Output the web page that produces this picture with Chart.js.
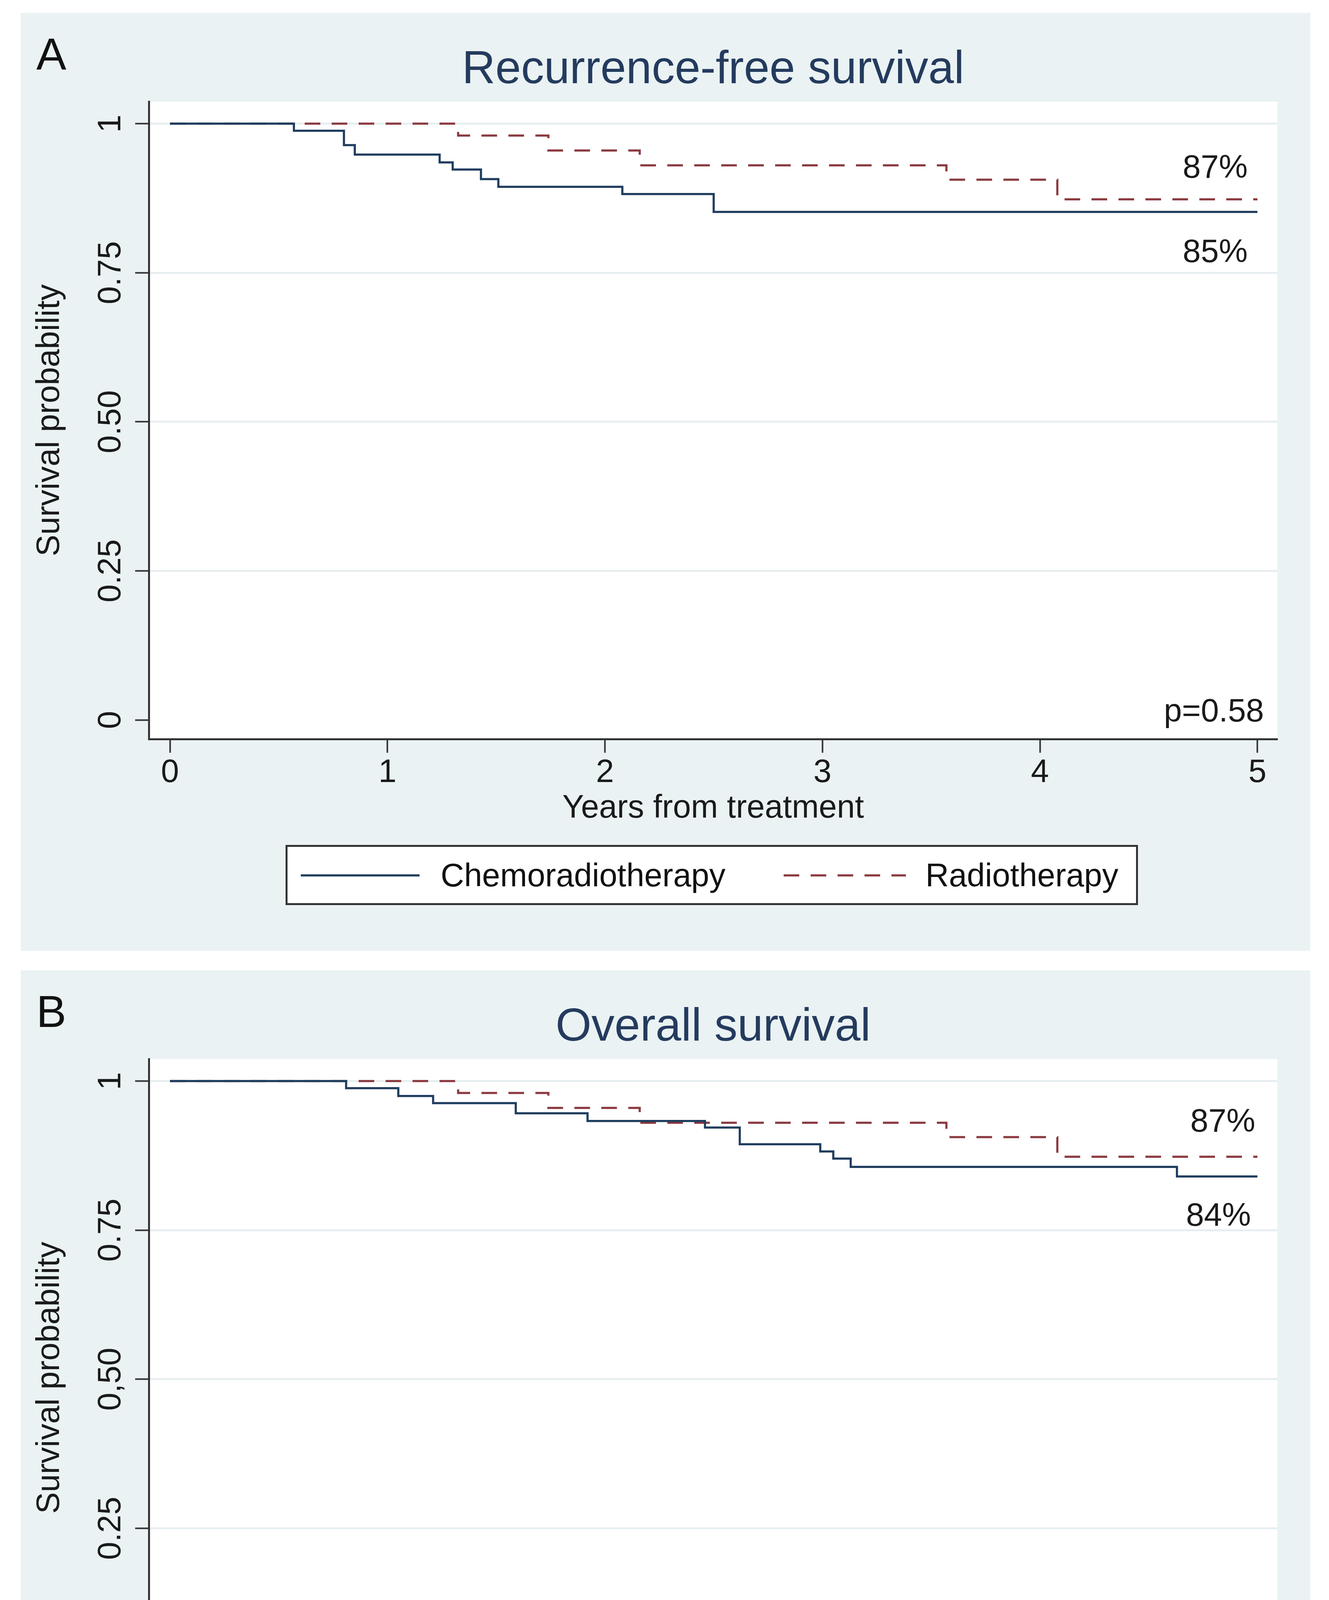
<!DOCTYPE html>
<html>
<head>
<meta charset="utf-8">
<title>Recurrence-free and overall survival</title>
<script src="https://cdn.jsdelivr.net/npm/chart.js@4.4.1/dist/chart.umd.min.js"></script>
<style>
  html, body { margin: 0; padding: 0; background: #fff; }
  body { width: 3402px; height: 4934px; position: relative; overflow: hidden;
         font-family: "Liberation Sans", Arial, sans-serif; }
  .panel { position: absolute; left: 53px; width: 3301px; height: 2401px; background: #eaf2f3; }
  .letter { position: absolute; left: 40px; top: 48px; font-size: 115px; line-height: 1; color: #111; }
  .title { position: absolute; left: 328px; width: 2889px; top: 80px; text-align: center;
           font-size: 118px; line-height: 1; color: #243b5e; }
  .panel canvas { position: absolute; left: 0; top: 0; }
  .legend { position: absolute; left: 676px; top: 2128px; }
</style>
</head>
<body>

<div class="panel" style="top:33px">
  <div class="letter">A</div>
  <div class="title">Recurrence-free survival</div>
  <canvas id="rfs" width="3301" height="2110" style="width:3301px;height:2110px"></canvas>
  <svg class="legend" width="2186" height="158">
    <rect x="4.5" y="4.5" width="2177" height="149" fill="#fff" stroke="#333" stroke-width="5"/>
    <line x1="41" y1="80" x2="345" y2="80" stroke="#1f3d5e" stroke-width="5.5"/>
    <text x="399" y="108" font-size="83" fill="#111" font-family="Liberation Sans, Arial, sans-serif">Chemoradiotherapy</text>
    <line x1="1277" y1="80" x2="1590" y2="80" stroke="#8b3a40" stroke-width="5.5" stroke-dasharray="40 29"/>
    <text x="1640" y="108" font-size="83" fill="#111" font-family="Liberation Sans, Arial, sans-serif">Radiotherapy</text>
  </svg>
</div>

<div class="panel" style="top:2484px">
  <div class="letter">B</div>
  <div class="title">Overall survival</div>
  <canvas id="os" width="3301" height="2110" style="width:3301px;height:2110px"></canvas>
  <svg class="legend" width="2186" height="158">
    <rect x="4.5" y="4.5" width="2177" height="149" fill="#fff" stroke="#333" stroke-width="5"/>
    <line x1="41" y1="80" x2="345" y2="80" stroke="#1f3d5e" stroke-width="5.5"/>
    <text x="399" y="108" font-size="83" fill="#111" font-family="Liberation Sans, Arial, sans-serif">Chemoradiotherapy</text>
    <line x1="1277" y1="80" x2="1590" y2="80" stroke="#8b3a40" stroke-width="5.5" stroke-dasharray="40 29"/>
    <text x="1640" y="108" font-size="83" fill="#111" font-family="Liberation Sans, Arial, sans-serif">Radiotherapy</text>
  </svg>
</div>

<script>
// ---- data ----
const xTickValues = [0, 1, 2, 3, 4, 5];
const yTickValues = [0, 0.25, 0.5, 0.75, 1];
const yTickLabelsA = ['0', '0.25', '0.50', '0.75', '1'];
const yTickLabelsB = ['0', '0.25', '0,50', '0.75', '1'];

// A: recurrence-free survival (years from treatment)
const rfsChemoTime = [0, 0.57, 0.80, 0.85, 1.24, 1.30, 1.43, 1.51, 2.08, 2.50, 5];
const rfsChemoSurv = [1, 0.988, 0.964, 0.948, 0.935, 0.923, 0.907, 0.894, 0.882, 0.852, 0.852];
const rfsRadioTime = [0, 1.325, 1.74, 2.16, 3.57, 4.08, 5];
const rfsRadioSurv = [1, 0.980, 0.955, 0.930, 0.906, 0.873, 0.873];

// B: overall survival (years from diagnosis)
const osChemoTime = [0, 0.81, 1.05, 1.21, 1.59, 1.92, 2.46, 2.62, 2.99, 3.05, 3.13, 4.63, 5];
const osChemoSurv = [1, 0.988, 0.975, 0.963, 0.946, 0.933, 0.922, 0.894, 0.882, 0.870, 0.856, 0.840, 0.840];
const osRadioTime = [0, 1.325, 1.74, 2.16, 3.57, 4.08, 5];
const osRadioSurv = [1, 0.980, 0.955, 0.930, 0.906, 0.873, 0.873];

const rfsNotes = ['87%', '85%', 'p=0.58'];
const osNotes = ['87%', '84%', 'p=0.61'];

// ---- look ----
const FONT = '"Liberation Sans", Arial, sans-serif';
const INK = '#1a1a1a';
const AXIS = '#333';
const GRID = '#e6eef0';
const CHEMO = '#1f3d5e';
const RADIO = '#8b3a40';

Chart.defaults.font.family = FONT;
Chart.defaults.color = INK;

const pts = (t, s) => t.map((v, i) => ({ x: v, y: s[i] }));

// white plot region
const plotBg = {
  id: 'plotBg',
  beforeDraw(chart) {
    const { ctx, chartArea: a } = chart;
    ctx.save();
    ctx.fillStyle = '#fff';
    ctx.fillRect(a.left, a.top, a.right - a.left, a.bottom - a.top);
    ctx.restore();
  }
};

// percentage and p-value text, placed in data units through the scales
const notes = {
  id: 'notes',
  afterDatasetsDraw(chart, args, opts) {
    const { ctx, scales: { x, y } } = chart;
    ctx.save();
    ctx.font = '83px ' + FONT;
    ctx.fillStyle = INK;
    ctx.textAlign = 'right';
    ctx.textBaseline = 'middle';
    opts.items.forEach(n => ctx.fillText(n.text, x.getPixelForValue(n.x), y.getPixelForValue(n.y)));
    ctx.restore();
  }
};

function makePanel(id, chemo, radio, yLabels, xTitle, noteItems) {
  new Chart(document.getElementById(id), {
    type: 'line',
    data: {
      datasets: [
        { label: 'Chemoradiotherapy', data: chemo, borderColor: CHEMO, borderWidth: 5.5,
          stepped: true, pointRadius: 0, fill: false },
        { label: 'Radiotherapy', data: radio, borderColor: RADIO, borderWidth: 5.5,
          borderDash: [40, 29], stepped: true, pointRadius: 0, fill: false }
      ]
    },
    options: {
      responsive: false, animation: false, devicePixelRatio: 1,
      layout: { padding: { left: 0, top: 227, right: 84, bottom: 0 } },
      plugins: {
        legend: { display: false }, tooltip: { enabled: false },
        notes: { items: noteItems }
      },
      scales: {
        x: {
          type: 'linear', min: -0.097, max: 5.092,
          afterBuildTicks: s => { s.ticks = xTickValues.map(v => ({ value: v })); },
          afterFit: s => { s.height = 251; },
          ticks: { font: { size: 83 }, color: INK, padding: 2, maxRotation: 0, autoSkip: false,
                   callback: v => String(v) },
          grid: { drawOnChartArea: false, drawTicks: true, tickLength: 35, tickColor: AXIS, tickWidth: 4 },
          border: { display: true, color: AXIS, width: 5 },
          title: { display: true, text: xTitle, font: { size: 83 }, color: INK, padding: { top: 0, bottom: 23 } }
        },
        y: {
          type: 'linear', min: -0.032, max: 1.037,
          afterBuildTicks: s => { s.ticks = yTickValues.map(v => ({ value: v })); },
          afterFit: s => { s.width = 328; },
          ticks: { font: { size: 83 }, color: INK, padding: -20, minRotation: 90, maxRotation: 90,
                   crossAlign: 'center', autoSkip: false,
                   callback: (v, i) => yLabels[i] },
          grid: { color: c => (c.tick && c.tick.value === 0) ? 'rgba(0,0,0,0)' : GRID, lineWidth: 5,
                  drawTicks: true, tickLength: 35, tickColor: AXIS, tickWidth: 4 },
          border: { display: true, color: AXIS, width: 5 },
          title: { display: true, text: 'Survival probability', font: { size: 83 }, color: INK,
                   padding: { top: 25, bottom: 0 } }
        }
      }
    },
    plugins: [plotBg, notes]
  });
}

makePanel('rfs', pts(rfsChemoTime, rfsChemoSurv), pts(rfsRadioTime, rfsRadioSurv), yTickLabelsA,
  'Years from treatment',
  [{ text: rfsNotes[0], x: 4.955, y: 0.924 },
   { text: rfsNotes[1], x: 4.955, y: 0.783 },
   { text: rfsNotes[2], x: 5.03, y: 0.0125 }]);

makePanel('os', pts(osChemoTime, osChemoSurv), pts(osRadioTime, osRadioSurv), yTickLabelsB,
  'Years from diagnosis',
  [{ text: osNotes[0], x: 4.99, y: 0.930 },
   { text: osNotes[1], x: 4.97, y: 0.772 },
   { text: osNotes[2], x: 5.03, y: 0.017 }]);
</script>
</body>
</html>
